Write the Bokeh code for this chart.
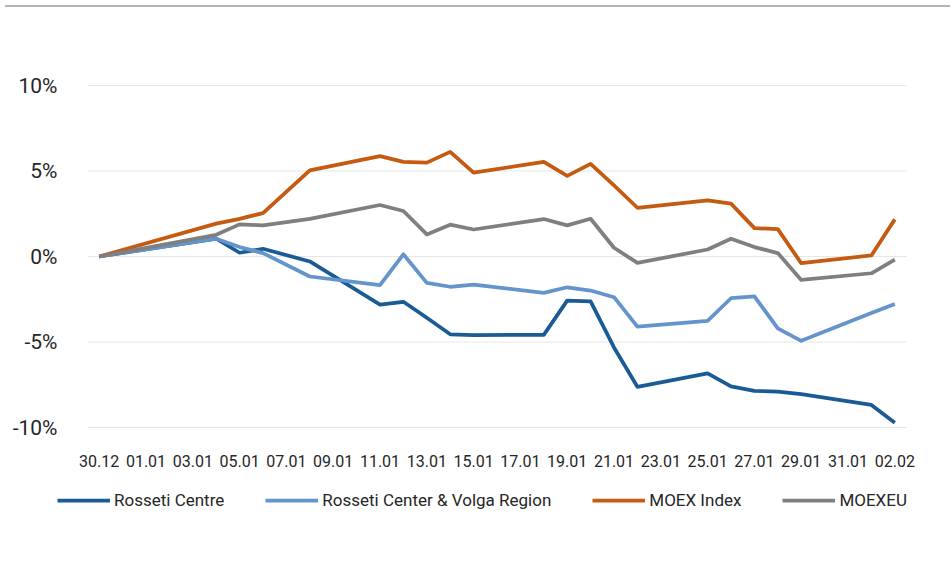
from datetime import datetime
from bokeh.plotting import figure
from bokeh.models import (Range1d, FixedTicker, PrintfTickFormatter, Legend, LegendItem, Div)
from bokeh.layouts import column
from bokeh.embed import file_html
from bokeh.resources import INLINE

# ---- data (percent change since 30.12) ----
dates = ["30.12.2020", "04.01.2021", "05.01.2021", "06.01.2021", "08.01.2021",
         "11.01.2021", "12.01.2021", "13.01.2021", "14.01.2021", "15.01.2021",
         "18.01.2021", "19.01.2021", "20.01.2021", "21.01.2021", "22.01.2021",
         "25.01.2021", "26.01.2021", "27.01.2021", "28.01.2021", "29.01.2021",
         "01.02.2021", "02.02.2021"]
rosseti_centre = [0, 1.04, 0.22, 0.45, -0.29, -2.81, -2.65, -3.58, -4.55, -4.60,
                  -4.58, -2.58, -2.62, -5.32, -7.62, -6.84, -7.60, -7.86, -7.90,
                  -8.05, -8.68, -9.72]
rosseti_cvr = [0, 1.04, 0.55, 0.20, -1.17, -1.68, 0.13, -1.54, -1.77, -1.64,
               -2.13, -1.80, -1.99, -2.38, -4.10, -3.77, -2.44, -2.33, -4.20,
               -4.93, -3.30, -2.78]
moex_index = [0, 1.92, 2.20, 2.54, 5.04, 5.87, 5.53, 5.49, 6.12, 4.91, 5.53,
              4.71, 5.42, 4.16, 2.85, 3.28, 3.09, 1.66, 1.60, -0.39, 0.06, 2.17]
moexeu = [0, 1.27, 1.88, 1.82, 2.20, 3.01, 2.66, 1.29, 1.86, 1.58, 2.19, 1.82,
          2.21, 0.51, -0.37, 0.41, 1.04, 0.55, 0.20, -1.37, -0.98, -0.18]
tick_labels = ["30.12", "01.01", "03.01", "05.01", "07.01", "09.01", "11.01",
               "13.01", "15.01", "17.01", "19.01", "21.01", "23.01", "25.01",
               "27.01", "29.01", "31.01", "02.02"]
y_ticks = [-10, -5, 0, 5, 10]
series_names = ["Rosseti Centre", "Rosseti Center & Volga Region", "MOEX Index", "MOEXEU"]
colors = ["#1a5b96", "#6394cc", "#c55a11", "#7f7f7f"]

d0 = datetime.strptime(dates[0], "%d.%m.%Y")
x = [(datetime.strptime(d, "%d.%m.%Y") - d0).days for d in dates]
tick_pos = [2 * i for i in range(len(tick_labels))]
x_lo, x_hi = x[0] - 0.5, x[-1] + 0.5          # plot-area extent in days
y_lo, y_hi = min(y_ticks), max(y_ticks)

# ---- layout geometry (pixels) ----
FONT = "Roboto"
TXT = "#262626"
W, H = 945, 563
B_L, B_R, B_T, B_B = 10, 5, 10, 5            # canvas borders around the frame
PLOT_L, PLOT_R = 87, 906                      # x extent of the plot area (canvas px)
PLOT_T, PLOT_B = 73, 415                      # y extent of the plot area (canvas px)
px_x = (PLOT_R - PLOT_L) / (x_hi - x_lo)
px_y = (PLOT_B - PLOT_T) / (y_hi - y_lo)
xr = Range1d(x_lo - (PLOT_L - B_L) / px_x, x_hi + ((W - B_R) - PLOT_R) / px_x)
yr = Range1d(y_lo - ((H - B_B) - PLOT_B) / px_y, y_hi + (PLOT_T - B_T) / px_y)

p = figure(width=W, height=H, output_backend="svg", toolbar_location=None,
           x_range=xr, y_range=yr,
           min_border_left=B_L, min_border_right=B_R, min_border_top=B_T,
           min_border_bottom=B_B)
p.outline_line_color = None
p.grid.visible = False

# horizontal gridlines limited to the plot area
p.segment(x0=[x_lo] * len(y_ticks), x1=[x_hi] * len(y_ticks), y0=y_ticks, y1=y_ticks,
          line_color="#e6e6e6", line_width=1)

items = []
for name, ys, c in zip(series_names, [rosseti_centre, rosseti_cvr, moex_index, moexeu], colors):
    r = p.line(x, ys, line_color=c, line_width=3.75, line_join="round")
    items.append(LegendItem(label=name, renderers=[r]))

p.yaxis.fixed_location = x_lo
p.xaxis.fixed_location = y_lo
p.yaxis.ticker = FixedTicker(ticks=y_ticks)
p.yaxis.formatter = PrintfTickFormatter(format="%d%%")
p.xaxis.ticker = FixedTicker(ticks=tick_pos)
p.xaxis.major_label_overrides = {t: l for t, l in zip(tick_pos, tick_labels)}
for ax in (p.xaxis[0], p.yaxis[0]):
    ax.axis_line_color = None
    ax.major_tick_line_color = None
    ax.minor_tick_line_color = None
    ax.major_label_text_font = FONT
    ax.major_label_text_color = TXT
p.xaxis.major_label_text_font_size = "16px"
p.yaxis.major_label_text_font_size = "21px"
p.xaxis.major_label_standoff = 21
p.yaxis.major_label_standoff = 24

legend = Legend(items=items, orientation="horizontal", location=(57 - B_L, 60),
                glyph_width=53, glyph_height=20, label_standoff=4, spacing=41,
                padding=0, margin=0, border_line_color=None,
                background_fill_alpha=0, label_text_font=FONT,
                label_text_font_size="17px", label_text_color=TXT)
p.add_layout(legend, "center")

topline = Div(text="", width=W, height=2, styles={"background-color": "#b2b5b8"})
layout = column(topline, p, spacing=0)

open("out.html", "w").write(file_html(layout, INLINE))
